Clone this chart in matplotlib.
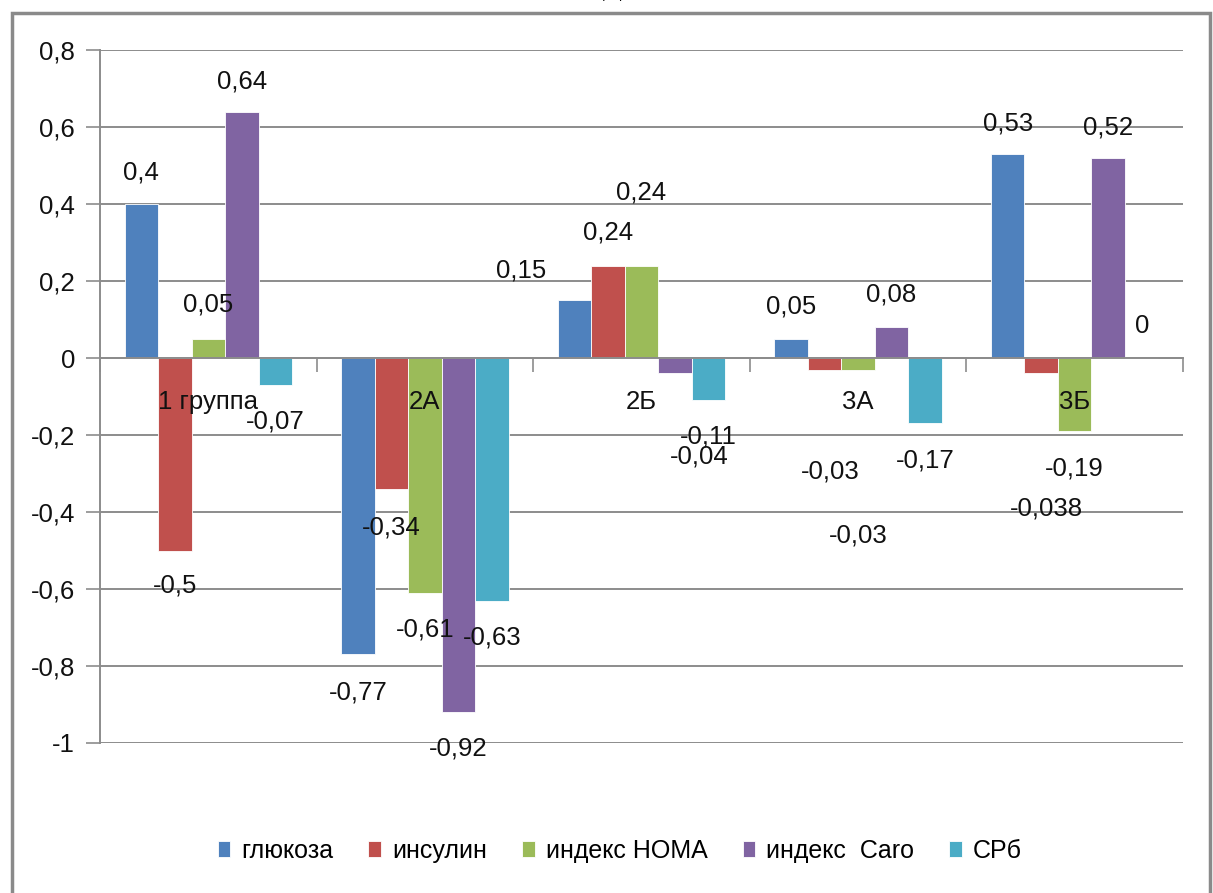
import matplotlib
matplotlib.use("Agg")
import matplotlib.pyplot as plt
from matplotlib.patches import Rectangle
import numpy as np

plt.rcParams['font.family'] = ['Liberation Sans Narrow', 'Liberation Sans', 'DejaVu Sans']

# Groups and indicators
groups = ["1 группа", "2А", "2Б", "3А", "3Б"]
series_names = ["глюкоза", "инсулин", "индекс HOMA", "индекс  Caro", "СРб"]

glucose = [0.4, -0.77, 0.15, 0.05, 0.53]
insulin = [-0.5, -0.34, 0.24, -0.03, -0.038]
homa = [0.05, -0.61, 0.24, -0.03, -0.19]
caro = [0.64, -0.92, -0.04, 0.08, 0.52]
crp = [-0.07, -0.63, -0.11, -0.17, 0]

y_ticks = [-1, -0.8, -0.6, -0.4, -0.2, 0, 0.2, 0.4, 0.6, 0.8]
y_tick_labels = ["-1", "-0,8", "-0,6", "-0,4", "-0,2", "0", "0,2", "0,4", "0,6", "0,8"]

colors = ["#4F81BD", "#C0504D", "#9BBB59", "#8064A2", "#4BACC6"]

# Hand-placed data label positions (y in data units, x shift from bar centre)
label_y = [
    [0.483, -0.868, 0.226, 0.135, 0.608],
    [-0.592, -0.439, 0.325, -0.296, -0.390],
    [0.138, -0.706, 0.429, -0.460, -0.286],
    [0.719, -1.013, -0.255, 0.164, 0.600],
    [-0.164, -0.725, -0.205, -0.265, 0.083],
]
label_dx = [
    [0, 0, -0.245, 0, 0],
    [0, 0, 0, 0.028, 0.023],
    [0, 0, 0, 0, 0],
    [0, 0, 0.111, 0, 0],
    [0, 0, 0, 0, 0],
]

all_series = [glucose, insulin, homa, caro, crp]

fig = plt.figure(figsize=(12.13, 8.93), dpi=100)
ax = fig.add_axes([100 / 1213, 1 - 743 / 893, 1083 / 1213, 693 / 893])

x = np.arange(len(groups))
width = 0.1547
for k, (vals, name, col) in enumerate(zip(all_series, series_names, colors)):
    pos = x + (k - 2) * width
    ax.bar(pos, vals, width, color=col, edgecolor='white', linewidth=0.6,
           label=name, zorder=2)
    for i, v in enumerate(vals):
        txt = f"{v:g}".replace('.', ',')
        ax.text(pos[i] + label_dx[k][i], label_y[k][i], txt, ha='center',
                va='center', fontsize=18.5, color='#111111', zorder=6)

ax.set_xlim(-0.5, len(groups) - 0.5)
ax.set_ylim(-1, 0.8)
ax.set_yticks(y_ticks)
ax.set_yticklabels(y_tick_labels)
ax.yaxis.grid(True, color='#8c8c8c', linewidth=1.4)
ax.yaxis.set_zorder(0.5)
ax.xaxis.set_zorder(5)

ax.set_xticks(x)
ax.set_xticklabels(groups)
ax.set_xticks(np.arange(len(groups) + 1) - 0.5, minor=True)
ax.tick_params(axis='x', which='major', length=0, pad=23, labelsize=18.5,
               labelcolor='#111111')
ax.tick_params(axis='x', which='minor', length=10, width=1.2, color='#8c8c8c', direction='out')
ax.tick_params(axis='y', length=10, width=1.2, color='#8c8c8c', direction='out', pad=8,
               labelsize=18.5, labelcolor='#111111')

for s in ['top', 'right']:
    ax.spines[s].set_visible(False)
ax.spines['bottom'].set_position(('data', 0))
ax.spines['bottom'].set_color('#8c8c8c')
ax.spines['bottom'].set_linewidth(1.4)
ax.spines['left'].set_color('#8c8c8c')
ax.spines['left'].set_linewidth(1.4)

# Chart border
fig.patches.append(Rectangle((12 / 1213, -0.05), 1198 / 1213, 1 - 13 / 893 + 0.05,
                             transform=fig.transFigure, fill=False,
                             edgecolor='#8a8a8a', linewidth=2.5))
fig.text(0.505, 1.013, "Д", ha='center', va='center', fontsize=20,
         family='Liberation Serif')

fig.legend(loc='center', bbox_to_anchor=(0.511, 1 - 851 / 893), ncol=5,
           frameon=False, fontsize=18, handlelength=0.5, handleheight=0.62,
           handletextpad=0.45, columnspacing=1.4)

fig.savefig("out.png", dpi=100)
